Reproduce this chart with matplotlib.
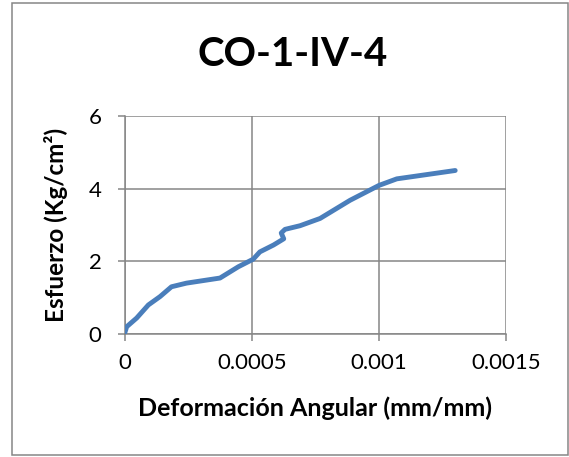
import matplotlib
matplotlib.use("Agg")
import matplotlib.pyplot as plt
from matplotlib.patches import Rectangle

title = "CO-1-IV-4"
xlabel = "Deformación Angular (mm/mm)"
ylabel = "Esfuerzo (Kg/cm²)"

deform = [0.0, 0.0000066, 0.000046, 0.000092, 0.000138, 0.000183, 0.000242,
          0.000374, 0.000446, 0.000505, 0.000531, 0.000585, 0.000625, 0.000615,
          0.00063, 0.000689, 0.000768, 0.000886, 0.001, 0.00107, 0.0013]
stress = [0.05, 0.2, 0.44, 0.80, 1.03, 1.30, 1.40,
          1.54, 1.85, 2.06, 2.26, 2.45, 2.62, 2.78,
          2.88, 2.98, 3.18, 3.68, 4.09, 4.27, 4.50]

xticks = [0, 0.0005, 0.001, 0.0015]
xticklabels = ["0", "0.0005", "0.001", "0.0015"]
yticks = [0, 2, 4, 6]

plt.rcParams['font.family'] = ['Lato', 'DejaVu Sans']

fig = plt.figure(figsize=(5.69, 4.57), dpi=100)
W, H = 569, 457
L, R, T, B = 125, 506, 116, 334
ax = fig.add_axes([L/W, 1-B/H, (R-L)/W, (B-T)/H])

ax.plot(deform, stress, color="#4A7EBB", lw=3.5, solid_capstyle="round",
        solid_joinstyle="round", zorder=3)

ax.set_xlim(0, 0.0015)
ax.set_ylim(0, 6)
ax.set_xticks(xticks)
ax.set_xticklabels(xticklabels)
ax.set_yticks(yticks)
ax.grid(True, color="#868686", lw=1.1)
for s in ["top", "right"]:
    ax.spines[s].set_visible(False)
for s in ["left", "bottom"]:
    ax.spines[s].set_color("#868686")
    ax.spines[s].set_linewidth(1.1)
ax.tick_params(axis="both", colors="#868686", labelcolor="black",
               labelsize=16, length=5, width=1.1, direction="out")
ax.tick_params(axis="x", pad=9)
ax.tick_params(axis="y", pad=12)

ax.set_xlabel(xlabel, fontsize=18, fontweight="bold")
ax.set_ylabel(ylabel, fontsize=17.5, fontweight="bold")
ax.xaxis.label.set_verticalalignment("center")
ax.yaxis.label.set_verticalalignment("center")
ax.xaxis.set_label_coords(((137+492)/2 - L)/(R-L), (B-408)/(B-T))
ax.yaxis.set_label_coords((56.5 - L)/(R-L), 0.5)

fig.text(292.5/W, 1-54/H, title, fontsize=29, fontweight="bold",
         ha="center", va="center")

fig.patches.append(Rectangle((12/W, 1-455/H), (568-12)/W, (455-3)/H,
                             transform=fig.transFigure, fill=False,
                             edgecolor="#868686", lw=1.1))

fig.savefig("out.png", dpi=100)
